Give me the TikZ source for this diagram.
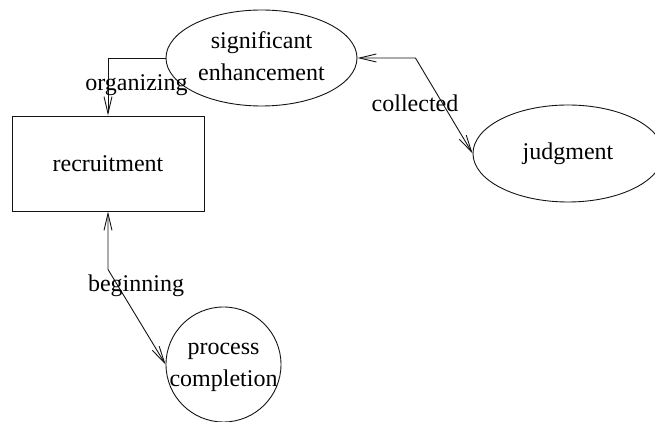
\documentclass[tikz,border=0pt]{standalone}
\usepackage{fontspec}
\setmainfont{Liberation Serif}
\usepackage{xcolor}
\usetikzlibrary{shapes.geometric,arrows.meta,positioning}
\definecolor{orgLine}{RGB}{20,20,20}
\newcommand{\zw}[1]{\makebox[0pt]{\begin{tabular}{@{}c@{}}#1\end{tabular}}}
\tikzset{
  orgrect/.style={rectangle, draw=orgLine, line width=0.45pt, minimum width=96pt, minimum height=47.5pt,
    align=center, inner sep=0pt},
  orgellipse/.style={ellipse, draw=orgLine, line width=0.45pt, minimum width=95.5pt, minimum height=48pt,
    inner sep=0pt},
  orgcircle/.style={circle, draw=orgLine, line width=0.45pt, minimum size=57.5pt, inner sep=0pt},
  edgelabel/.style={inner sep=1pt},
  linkarrow/.style={-{Straight Barb[length=8.5pt,width=4pt]}, draw=orgLine, line width=0.45pt},
  bilinkarrow/.style={{Straight Barb[length=8.5pt,width=4pt]}-{Straight Barb[length=8.5pt,width=4pt]}, draw=orgLine, line width=0.45pt},
}

\begin{document}
\begin{tikzpicture}[x=0.5pt,y=-0.5pt, font=\fontsize{12}{16}\selectfont]
  \useasboundingbox (0,0) rectangle (655,422);

  \node[orgrect] (recruit) at (108,163.5) {recruitment};
  \node[orgellipse] (enhance) at (261.5,58) {\zw{significant\\enhancement}};
  \node[orgellipse, minimum width=95pt, minimum height=48.5pt] (judge) at (568,153.5) {\zw{judgment}};
  \node[orgcircle] (complete) at (223.5,364.5) {\zw{process\\completion}};

  \draw[linkarrow] (enhance.west) -| (recruit.north);
  \node[edgelabel] (lorg) at (136.5,85) {organizing};

  \draw[bilinkarrow] (enhance.east) -- ++(58,0) -- (judge.west);
  \node[edgelabel] (lcol) at (415,103) {collected};

  \draw[bilinkarrow] (recruit.south) -- ++(0,58) -- (complete.west);
  \node[edgelabel] (lbeg) at (136,286) {beginning};
\end{tikzpicture}
\end{document}
